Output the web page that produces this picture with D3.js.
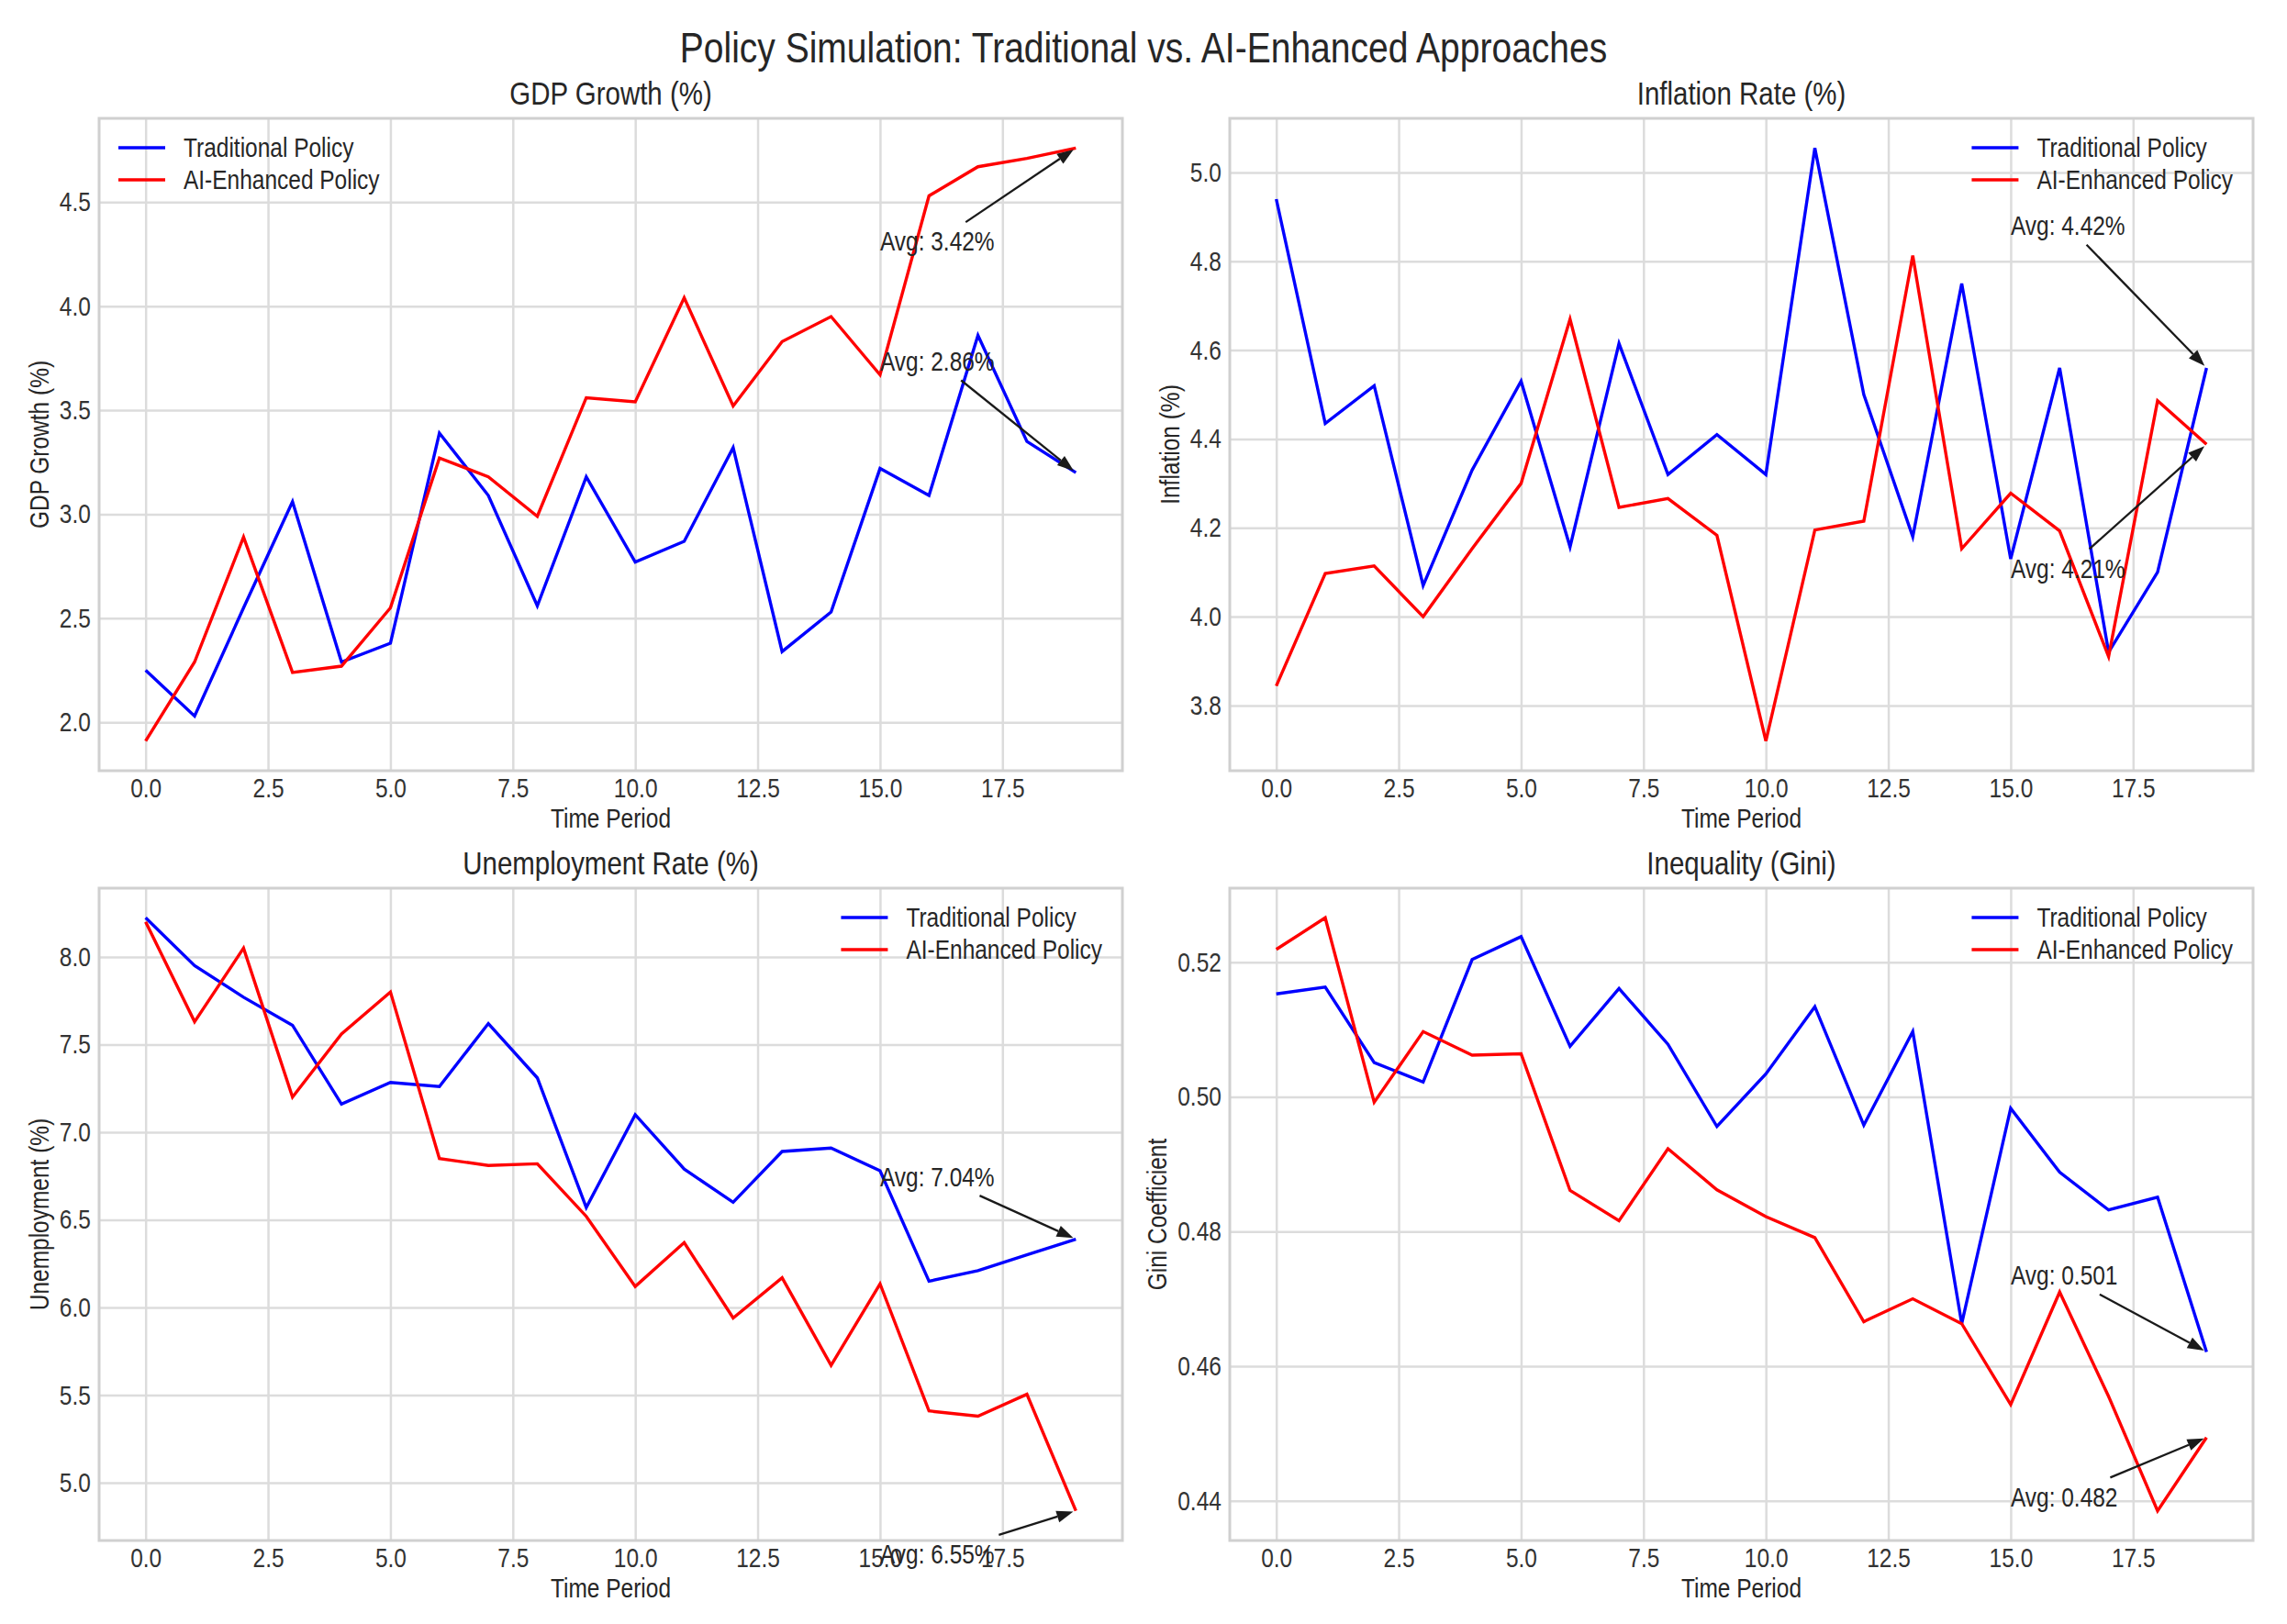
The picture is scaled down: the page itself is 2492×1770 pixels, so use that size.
<!DOCTYPE html>
<html>
<head>
<meta charset="utf-8">
<script src="https://cdn.jsdelivr.net/npm/d3@7"></script>
<style>
  body { margin: 0; background: #fff; }
  text { font-family: "Liberation Sans", Arial, sans-serif; fill: #262626; }
</style>
</head>
<body>
<div id="chart"></div>
<script>
var svgWidth = 2492;
var svgHeight = 1770;

// data
var periods = [0, 1, 2, 3, 4, 5, 6, 7, 8, 9, 10, 11, 12, 13, 14, 15, 16, 17, 18, 19];
var xTicks = [0, 2.5, 5, 7.5, 10, 12.5, 15, 17.5];

var gdpTrad = [2.25, 2.03, 2.55, 3.06, 2.29, 2.38, 3.39, 3.09, 2.56, 3.18, 2.77, 2.87, 3.32, 2.34, 2.53, 3.22, 3.09, 3.86, 3.35, 3.20];
var gdpAI = [1.91, 2.29, 2.89, 2.24, 2.27, 2.55, 3.27, 3.18, 2.99, 3.56, 3.54, 4.04, 3.52, 3.83, 3.95, 3.67, 4.53, 4.67, 4.71, 4.76];
var inflTrad = [4.94, 4.435, 4.52, 4.07, 4.33, 4.53, 4.157, 4.615, 4.32, 4.41, 4.32, 5.055, 4.50, 4.18, 4.75, 4.13, 4.56, 3.92, 4.10, 4.56];
var inflAI = [3.844, 4.097, 4.114, 4.00, 4.153, 4.30, 4.67, 4.246, 4.266, 4.183, 3.72, 4.195, 4.215, 4.813, 4.153, 4.278, 4.193, 3.91, 4.486, 4.388];
var unempTrad = [8.223, 7.95, 7.77, 7.61, 7.16, 7.284, 7.26, 7.62, 7.31, 6.57, 7.10, 6.79, 6.60, 6.89, 6.91, 6.78, 6.15, 6.21, 6.30, 6.39];
var unempAI = [8.20, 7.63, 8.05, 7.20, 7.56, 7.80, 6.85, 6.81, 6.82, 6.52, 6.12, 6.37, 5.94, 6.17, 5.67, 6.135, 5.41, 5.38, 5.505, 4.84];
var giniTrad = [0.5153, 0.5163, 0.5051, 0.5022, 0.5204, 0.5238, 0.5075, 0.5161, 0.5078, 0.4956, 0.5034, 0.5134, 0.4958, 0.5097, 0.4663, 0.4983, 0.4888, 0.4832, 0.4851, 0.4621];
var giniAI = [0.5219, 0.5266, 0.4992, 0.5097, 0.5062, 0.5064, 0.4861, 0.4816, 0.4923, 0.4862, 0.4822, 0.4791, 0.4666, 0.4700, 0.4663, 0.4543, 0.4710, 0.4555, 0.4385, 0.4494];

var panelTitles = ["GDP Growth (%)", "Inflation Rate (%)", "Unemployment Rate (%)", "Inequality (Gini)"];
var yLabels = ["GDP Growth (%)", "Inflation (%)", "Unemployment (%)", "Gini Coefficient"];
var yTicks = [
  [2.0, 2.5, 3.0, 3.5, 4.0, 4.5],
  [3.8, 4.0, 4.2, 4.4, 4.6, 4.8, 5.0],
  [5.0, 5.5, 6.0, 6.5, 7.0, 7.5, 8.0],
  [0.44, 0.46, 0.48, 0.50, 0.52]
];
var yTickFormats = [".1f", ".1f", ".1f", ".2f"];
var seriesNames = ["Traditional Policy", "AI-Enhanced Policy"];

// "Avg" notes: label text and where the text sits (data units)
var noteTradText = ["Avg: 2.86%", "Avg: 4.42%", "Avg: 7.04%", "Avg: 0.501"];
var noteAIText = ["Avg: 3.42%", "Avg: 4.21%", "Avg: 6.55%", "Avg: 0.482"];
var noteX = 15;
var noteTradY = [3.69, 4.859, 6.693, 0.4721];
var noteAIY = [4.266, 4.088, 4.54, 0.4392];

var tradSeries = [gdpTrad, inflTrad, unempTrad, giniTrad];
var aiSeries = [gdpAI, inflAI, unempAI, giniAI];

// the reference font is a narrow sans; squeeze the regular one to match
var squeeze = 0.83;

var svg = d3.select("#chart")
  .append("svg")
  .attr("width", svgWidth)
  .attr("height", svgHeight);

svg.append("rect").attr("width", svgWidth).attr("height", svgHeight).attr("fill", "#fff");

function addText(parent, x, y, size, str, extra) {
  return parent.append("text")
    .attr("transform", `translate(${x}, ${y}) ${extra || ""} scale(${squeeze}, 1)`)
    .style("font-size", size + "px")
    .text(str);
}

addText(svg, 1246, 68, 47, "Policy Simulation: Traditional vs. AI-Enhanced Approaches")
  .attr("text-anchor", "middle");

var boxes = [
  {left: 108, top: 129},
  {left: 1340, top: 129},
  {left: 108, top: 968},
  {left: 1340, top: 968}
];
var width = 1115;
var height = 711;
var fontSize = 29.5;

function drawPanel(i) {
  var box = boxes[i];
  var g = svg.append("g").attr("transform", `translate(${box.left}, ${box.top})`);
  var trad = tradSeries[i];
  var ai = aiSeries[i];

  // matplotlib-like 5% margins
  var xe = d3.extent(periods);
  var xp = (xe[1] - xe[0]) * 0.05;
  var xScale = d3.scaleLinear().domain([xe[0] - xp, xe[1] + xp]).range([0, width]);

  var ye = d3.extent(trad.concat(ai));
  var yp = (ye[1] - ye[0]) * 0.05;
  var yScale = d3.scaleLinear().domain([ye[0] - yp, ye[1] + yp]).range([height, 0]);

  // grid
  g.append("g")
    .attr("class", "grid")
    .attr("transform", `translate(0, ${height})`)
    .call(d3.axisBottom(xScale).tickValues(xTicks).tickSize(-height).tickFormat(""))
    .call(s => s.select(".domain").remove());
  g.append("g")
    .attr("class", "grid")
    .call(d3.axisLeft(yScale).tickValues(yTicks[i]).tickSize(-width).tickFormat(""))
    .call(s => s.select(".domain").remove());
  g.selectAll(".grid line").attr("stroke", "#dcdcdc").attr("stroke-width", 2.5);

  // frame
  g.append("rect")
    .attr("width", width)
    .attr("height", height)
    .attr("fill", "none")
    .attr("stroke", "#d0d0d0")
    .attr("stroke-width", 3);

  // tick labels
  var xAxis = g.append("g")
    .attr("transform", `translate(0, ${height})`)
    .call(d3.axisBottom(xScale).tickValues(xTicks).tickSize(0).tickPadding(8).tickFormat(d3.format(".1f")));
  xAxis.select(".domain").remove();
  xAxis.selectAll("text")
    .style("font-size", fontSize + "px")
    .style("fill", "#333")
    .attr("transform", `scale(${squeeze}, 1)`);

  var yAxis = g.append("g")
    .call(d3.axisLeft(yScale).tickValues(yTicks[i]).tickSize(0).tickPadding(11).tickFormat(d3.format(yTickFormats[i])));
  yAxis.select(".domain").remove();
  yAxis.selectAll("text")
    .style("font-size", fontSize + "px")
    .style("fill", "#333")
    .attr("transform", `scale(${squeeze}, 1)`);

  var tickLeft = yAxis.node().getBBox().x;

  // lines
  var line = d3.line()
    .x((d, j) => xScale(periods[j]))
    .y(d => yScale(d));

  g.append("path").datum(trad)
    .attr("d", line)
    .attr("fill", "none")
    .attr("stroke", "#0000ff")
    .attr("stroke-width", 3.4);
  g.append("path").datum(ai)
    .attr("d", line)
    .attr("fill", "none")
    .attr("stroke", "#ff0000")
    .attr("stroke-width", 3.4);

  // titles and labels
  addText(g, width / 2, -15, 35.5, panelTitles[i]).attr("text-anchor", "middle");
  addText(g, width / 2, height + 62, fontSize, "Time Period").attr("text-anchor", "middle");
  addText(g, tickLeft - 12, height / 2, fontSize, yLabels[i], "rotate(-90)").attr("text-anchor", "middle");

  // avg notes with arrows
  var last = periods[periods.length - 1];
  addNote(g, noteTradText[i], xScale(noteX), yScale(noteTradY[i]), xScale(last), yScale(trad[trad.length - 1]));
  addNote(g, noteAIText[i], xScale(noteX), yScale(noteAIY[i]), xScale(last), yScale(ai[ai.length - 1]));

  // legend
  var leg = g.append("g");
  var texts = seriesNames.map(function(name, k) {
    return addText(leg, 0, 0, fontSize, name);
  });
  var maxW = d3.max(texts, t => t.node().getComputedTextLength()) * squeeze;
  var textX = i === 0 ? 92 : width - 22 - maxW;
  texts.forEach(function(t, k) {
    t.attr("transform", `translate(${textX}, ${32 + k * 35 + 10}) scale(${squeeze}, 1)`);
  });
  ["#0000ff", "#ff0000"].forEach(function(c, k) {
    leg.append("line")
      .attr("x1", textX - 71)
      .attr("x2", textX - 20)
      .attr("y1", 32 + k * 35)
      .attr("y2", 32 + k * 35)
      .attr("stroke", c)
      .attr("stroke-width", 3.4);
  });
}

function addNote(g, label, tx, ty, px, py) {
  var t = addText(g, tx, ty, fontSize, label);
  var b = t.node().getBBox();
  var bx0 = tx + b.x * squeeze, bw = b.width * squeeze;
  var cx = bx0 + bw / 2, cy = ty + b.y + b.height / 2;
  var dx = px - cx, dy = py - cy;
  var hw = bw / 2 + 6, hh = b.height / 2 + 4;
  var s = Math.min(Math.abs(hw / dx), Math.abs(hh / dy));
  var sx = cx + dx * s, sy = cy + dy * s;
  var len = Math.sqrt((px - sx) * (px - sx) + (py - sy) * (py - sy));
  var ux = (px - sx) / len, uy = (py - sy) / len;
  var ex = px - ux * 3, ey = py - uy * 3;
  var headL = 18, headW = 6.5;
  var hx = ex - ux * headL, hy = ey - uy * headL;
  g.append("line")
    .attr("x1", sx).attr("y1", sy)
    .attr("x2", hx).attr("y2", hy)
    .attr("stroke", "#1a1a1a")
    .attr("stroke-width", 2.3);
  g.append("path")
    .attr("d", `M${ex},${ey}L${hx - uy * headW},${hy + ux * headW}L${hx + uy * headW},${hy - ux * headW}Z`)
    .attr("fill", "#1a1a1a");
}

for (var i = 0; i < 4; i++) {
  drawPanel(i);
}
</script>
</body>
</html>
